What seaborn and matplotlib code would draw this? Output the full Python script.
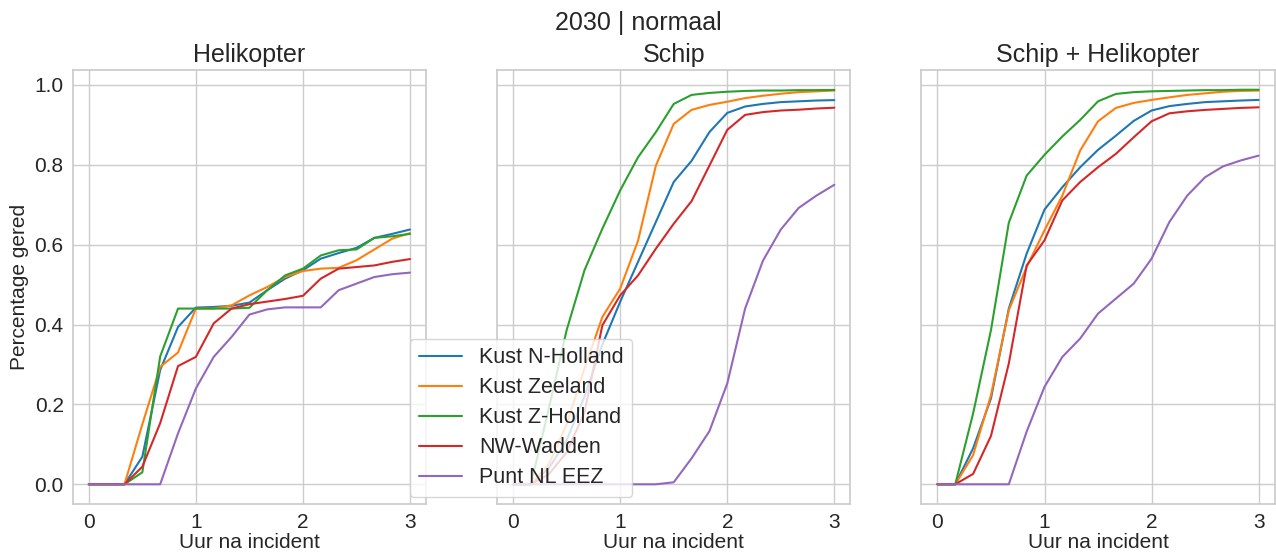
import numpy as np
import pandas as pd
import matplotlib
matplotlib.use("Agg")
import matplotlib.pyplot as plt
import seaborn as sns

# ---- data -------------------------------------------------------------
hours = [0, 1/6, 2/6, 3/6, 4/6, 5/6, 1, 7/6, 8/6, 9/6, 10/6, 11/6, 2,
         13/6, 14/6, 15/6, 16/6, 17/6, 3]

locations = ["Kust N-Holland", "Kust Zeeland", "Kust Z-Holland", "NW-Wadden", "Punt NL EEZ"]
panels = ["Helikopter", "Schip", "Schip + Helikopter"]

heli_nholland = [0, 0, 0, 0.069, 0.286, 0.394, 0.4425, 0.444, 0.447, 0.455, 0.486, 0.515, 0.536, 0.565, 0.579, 0.592, 0.617, 0.627, 0.638]
heli_zeeland = [0, 0, 0, 0.15, 0.294, 0.33, 0.44, 0.44, 0.448, 0.473, 0.494, 0.519, 0.534, 0.54, 0.542, 0.561, 0.588, 0.615, 0.629]
heli_zholland = [0, 0, 0, 0.03, 0.32, 0.44, 0.44, 0.44, 0.44, 0.442, 0.486, 0.523, 0.54, 0.573, 0.586, 0.588, 0.617, 0.621, 0.627]
heli_wadden = [0, 0, 0, 0.044, 0.153, 0.296, 0.319, 0.403, 0.44, 0.451, 0.4575, 0.464, 0.472, 0.515, 0.54, 0.544, 0.548, 0.557, 0.564]
heli_eez = [0, 0, 0, 0, 0, 0.1275, 0.24, 0.319, 0.369, 0.425, 0.438, 0.443, 0.443, 0.443, 0.486, 0.5025, 0.519, 0.526, 0.53]

schip_nholland = [0, 0, 0.04, 0.11, 0.22, 0.35, 0.457, 0.557, 0.657, 0.757, 0.81, 0.882, 0.93, 0.946, 0.9525, 0.957, 0.959, 0.961, 0.962]
schip_zeeland = [0, 0, 0.05, 0.15, 0.29, 0.419, 0.49, 0.61, 0.798, 0.9025, 0.9375, 0.95, 0.958, 0.967, 0.973, 0.978, 0.982, 0.984, 0.986]
schip_zholland = [0, 0, 0.19, 0.386, 0.536, 0.64, 0.736, 0.819, 0.882, 0.9525, 0.975, 0.98, 0.983, 0.985, 0.986, 0.986, 0.987, 0.987, 0.9875]
schip_wadden = [0, 0, 0.025, 0.08, 0.18, 0.398, 0.473, 0.523, 0.59, 0.6525, 0.709, 0.798, 0.8875, 0.925, 0.932, 0.936, 0.938, 0.941, 0.943]
schip_eez = [0, 0, 0, 0, 0, 0, 0, 0, 0, 0.005, 0.065, 0.133, 0.2525, 0.44, 0.56, 0.638, 0.692, 0.723, 0.75]

beide_nholland = [0, 0, 0.09, 0.215, 0.44, 0.5775, 0.688, 0.744, 0.794, 0.8375, 0.873, 0.91, 0.936, 0.947, 0.9525, 0.957, 0.959, 0.961, 0.9625]
beide_zeeland = [0, 0, 0.073, 0.223, 0.436, 0.544, 0.636, 0.723, 0.836, 0.909, 0.9425, 0.955, 0.9625, 0.969, 0.975, 0.979, 0.983, 0.985, 0.986]
beide_zholland = [0, 0, 0.1775, 0.386, 0.655, 0.773, 0.825, 0.871, 0.9125, 0.959, 0.9775, 0.982, 0.984, 0.985, 0.986, 0.987, 0.987, 0.988, 0.988]
beide_wadden = [0, 0, 0.026, 0.121, 0.3025, 0.548, 0.611, 0.711, 0.757, 0.794, 0.8275, 0.869, 0.909, 0.929, 0.934, 0.9375, 0.94, 0.9425, 0.944]
beide_eez = [0, 0, 0, 0, 0, 0.132, 0.244, 0.319, 0.365, 0.4275, 0.465, 0.5025, 0.565, 0.657, 0.723, 0.769, 0.796, 0.811, 0.823]

series = {
    "Helikopter": [heli_nholland, heli_zeeland, heli_zholland, heli_wadden, heli_eez],
    "Schip": [schip_nholland, schip_zeeland, schip_zholland, schip_wadden, schip_eez],
    "Schip + Helikopter": [beide_nholland, beide_zeeland, beide_zholland, beide_wadden, beide_eez],
}

# ---- plot -------------------------------------------------------------
sns.set_theme(style="whitegrid")
plt.rcParams["font.family"] = ["Liberation Sans", "DejaVu Sans"]

fig, axes = plt.subplots(1, 3, figsize=(12.76, 5.53), dpi=100, sharey=True)
fig.subplots_adjust(left=0.057, right=0.999, bottom=0.0886, top=0.8734, wspace=0.2008)

palette = dict(zip(locations, sns.color_palette("tab10", 5)))

for ax, panel in zip(axes, panels):
    rows = []
    for loc, vals in zip(locations, series[panel]):
        for h, v in zip(hours, vals):
            rows.append({"uur": h, "gered": v, "locatie": loc})
    df = pd.DataFrame(rows)
    sns.lineplot(data=df, x="uur", y="gered", hue="locatie", hue_order=locations,
                 palette=palette, linewidth=1.5, ax=ax, legend=(panel == "Helikopter"))
    ax.set_title(panel, fontsize=18)
    ax.set_xlabel("Uur na incident", fontsize=15, labelpad=1)
    ax.set_ylabel("")
    ax.set_xticks([0, 1, 2, 3])
    ax.set_yticks([0.0, 0.2, 0.4, 0.6, 0.8, 1.0])
    ax.tick_params(axis="both", labelsize=15, length=0, pad=6.5)

axes[0].set_ylabel("Percentage gered", fontsize=15)

handles, labels = axes[0].get_legend_handles_labels()
axes[0].get_legend().remove()
fig.legend(handles, labels, loc="lower left", bbox_to_anchor=(0.3213, 0.1013),
           borderaxespad=0, fontsize=15.5, labelspacing=0.42, frameon=True)

fig.suptitle("2030 | normaal", fontsize=18, y=0.98)

fig.savefig("out.png", dpi=100)
